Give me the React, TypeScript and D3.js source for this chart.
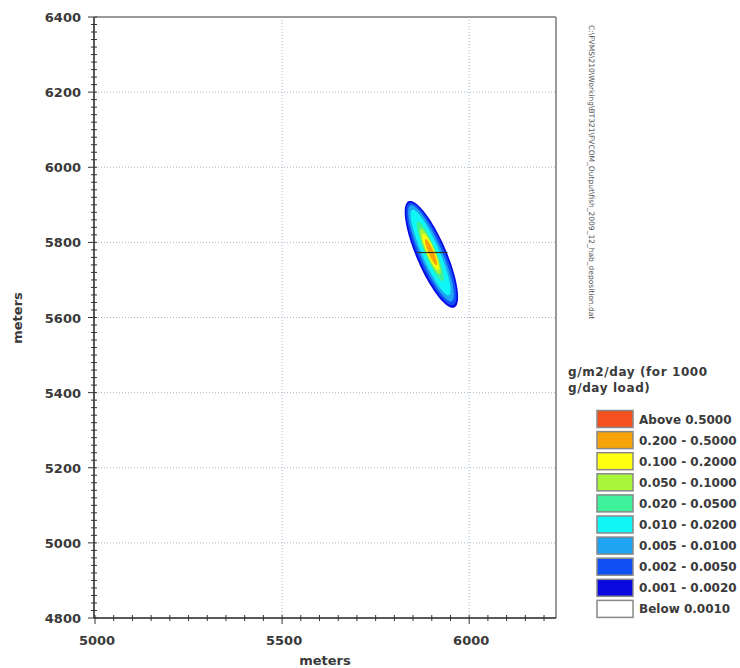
import React from "react";
import * as d3 from "d3";

// ---- data ----
const xTicks = [5000, 5500, 6000];
const yTicks = [4800, 5000, 5200, 5400, 5600, 5800, 6000, 6200, 6400];
const legendLabels = [
  "Above 0.5000",
  "0.200 - 0.5000",
  "0.100 - 0.2000",
  "0.050 - 0.1000",
  "0.020 - 0.0500",
  "0.010 - 0.0200",
  "0.005 - 0.0100",
  "0.002 - 0.0050",
  "0.001 - 0.0020",
  "Below 0.0010",
];
const legendColors = [
  "#f4511e",
  "#f7a30a",
  "#ffff10",
  "#a8f53a",
  "#3ef29c",
  "#10f5f5",
  "#1ea4f0",
  "#1050f5",
  "#0a0ae0",
  "#ffffff",
];
// contour bands (outer -> inner): level, centre x, centre y, semi-major, semi-minor (m), angle (deg)
const contourLevels = [0.001, 0.002, 0.005, 0.01, 0.02, 0.05, 0.1, 0.2];
const contourCx = [5899, 5899, 5898, 5897, 5896, 5896, 5897, 5898];
const contourCy = [5768, 5769, 5771, 5773, 5776, 5776, 5775, 5774];
const contourA = [154, 148, 139, 124, 86, 66, 52, 38];
const contourB = [40, 35, 29, 23, 15, 12, 10, 7];
const contourAngle = [-66.6, -66.6, -66.6, -66.6, -67, -67, -67, -67];
const contourColors = ["#0a0ae0", "#1050f5", "#1ea4f0", "#10f5f5", "#3ef29c", "#a8f53a", "#ffff10", "#f7a30a"];
// source line
const sourceX = [5860, 5942];
const sourceY = [5773, 5773];

const title1 = "g/m2/day (for 1000";
const title2 = "g/day load)";
const fileLabel = "C:\\FVMS\\210\\Working\\BT321\\FVCOM_Output\\fish_2009_12_hab_deposition.dat";

export default function App() {
  const W = 740, H = 668;
  const x = d3.scaleLinear().domain([5000, 6232]).range([95, 556]);
  const y = d3.scaleLinear().domain([4800, 6400]).range([618, 17]);
  const font = "'DejaVu Sans', Verdana, sans-serif";

  const xMinor = d3.range(5000, 6232, 50);
  const yMinor = d3.range(4800, 6401, 20);

  const ellipse = (i: number) => {
    const n = 72;
    const th = (contourAngle[i] * Math.PI) / 180;
    const pts: [number, number][] = d3.range(n).map((k) => {
      const t = (2 * Math.PI * k) / n;
      const u = contourA[i] * Math.cos(t);
      const v = contourB[i] * Math.sin(t);
      return [
        contourCx[i] + u * Math.cos(th) - v * Math.sin(th),
        contourCy[i] + u * Math.sin(th) + v * Math.cos(th),
      ];
    });
    return d3
      .line<[number, number]>()
      .x((d) => x(d[0]))
      .y((d) => y(d[1]))
      .curve(d3.curveCardinalClosed)(pts) as string;
  };

  const legendY0 = 419;
  const legendStep = 21.1;

  return (
    <svg
      width={W}
      height={H}
      style={{ position: "absolute", left: 0, top: 0, background: "#fff" }}
      fontFamily={font}
    >
      {/* frame */}
      <line x1={x(5000)} x2={556} y1={y(6400)} y2={y(6400)} stroke="#9a9a9a" strokeWidth={2} />
      <line x1={556} x2={556} y1={y(6400)} y2={y(4800)} stroke="#9a9a9a" strokeWidth={2} />
      {/* grid */}
      {xTicks.filter((v) => v > 5000).map((v) => (
        <line key={"gx" + v} x1={x(v)} x2={x(v)} y1={y(6400)} y2={y(4800)} stroke="#a8b8cc" strokeDasharray="1,2" />
      ))}
      {yTicks.filter((v) => v > 4800 && v < 6400).map((v) => (
        <line key={"gy" + v} x1={x(5000)} x2={556} y1={y(v)} y2={y(v)} stroke="#a8b8cc" strokeDasharray="1,2" />
      ))}
      {/* contours */}
      {contourLevels.map((lv, i) => (
        <path key={"c" + lv} d={ellipse(i)} fill={contourColors[i]} stroke="none" />
      ))}
      {/* source */}
      <line x1={x(sourceX[0])} x2={x(sourceX[1])} y1={y(sourceY[0])} y2={y(sourceY[1])} stroke="#333" strokeWidth={1.2} />
      {/* axes */}
      <line x1={94} x2={94} y1={y(6400)} y2={y(4800)} stroke="#222" strokeWidth={1.5} />
      <line x1={94} x2={556} y1={y(4800)} y2={y(4800)} stroke="#222" strokeWidth={1.5} />
      {yMinor.map((v) => (
        <line key={"ym" + v} x1={yTicks.includes(v) ? 88 : 91} x2={97} y1={y(v)} y2={y(v)} stroke="#333" strokeWidth={1} />
      ))}
      {xMinor.map((v) => (
        <line key={"xm" + v} x1={x(v)} x2={x(v)} y1={615} y2={xTicks.includes(v) ? 624 : 621} stroke="#333" strokeWidth={1} />
      ))}
      {yTicks.map((v) => (
        <text key={"yl" + v} x={81} y={y(v) + 5} textAnchor="end" fontSize={13} fontWeight="bold" fill="#3a3a3a">
          {v}
        </text>
      ))}
      {xTicks.map((v) => (
        <text key={"xl" + v} x={x(v) + 2} y={645} textAnchor="middle" fontSize={13} fontWeight="bold" fill="#3a3a3a">
          {v}
        </text>
      ))}
      <text x={325} y={665} textAnchor="middle" fontSize={13} fontWeight="bold" fill="#3a3a3a">
        meters
      </text>
      <text
        transform={`translate(22,318) rotate(-90)`}
        textAnchor="middle"
        fontSize={13}
        fontWeight="bold"
        fill="#3a3a3a"
      >
        meters
      </text>
      {/* file label */}
      <text transform="translate(589,25) rotate(90)" fontSize={7.5} fill="#555">
        {fileLabel}
      </text>
      {/* legend */}
      <text x={568} y={376} fontSize={12} fontWeight="bold" fill="#3a3a3a" letterSpacing={0.6}>
        {title1}
      </text>
      <text x={568} y={392} fontSize={12} fontWeight="bold" fill="#3a3a3a" letterSpacing={0.6}>
        {title2}
      </text>
      {legendLabels.map((lab, i) => (
        <g key={"lg" + i}>
          <rect
            x={597}
            y={legendY0 + i * legendStep - 8.5}
            width={36}
            height={17}
            fill={legendColors[i]}
            stroke="#888"
            strokeWidth={1.5}
          />
          <text x={639} y={legendY0 + i * legendStep + 4.5} fontSize={12} fontWeight="bold" fill="#3a3a3a">
            {lab}
          </text>
        </g>
      ))}
    </svg>
  );
}
